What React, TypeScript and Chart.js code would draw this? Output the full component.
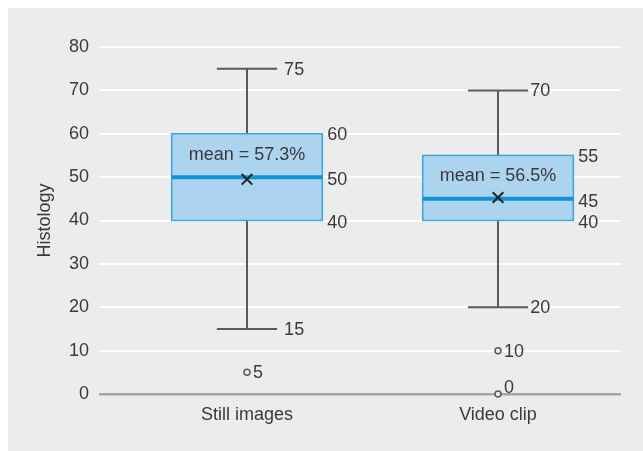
import React, { useEffect, useRef } from "react";
import { Chart, registerables } from "chart.js";

Chart.register(...registerables);

const categories = ["Still images", "Video clip"];
const whiskerMax = [75, 70];
const q3 = [60, 55];
const median = [50, 45];
const q1 = [40, 40];
const whiskerMin = [15, 20];
const meanMarker = [49.5, 45.3];
const meanLabel = ["57.3%", "56.5%"];
const outlierCat = [1, 2, 2];
const outlierVal = [5, 10, 0];
const yTicks = [0, 10, 20, 30, 40, 50, 60, 70, 80];

const FONT = "'Liberation Sans', Arial, sans-serif";
const TEXT = "#3a3a3a";
const BOX_FILL = "#add4ef";
const BOX_BORDER = "#38a6e0";
const MEDIAN = "#1193d9";
const WHISKER = "#5a5a5a";
const BOX_HALF = 0.3;
const CAP_HALF = 0.12;
const CAP_LABEL_GAP = [7, 2];

const boxPlugin = {
  id: "boxPlugin",
  beforeDatasetsDraw(chart: any) {
    const { ctx } = chart;
    const xs = chart.scales.x;
    const ys = chart.scales.y;
    categories.forEach((_, i) => {
      const c = i + 1;
      const x = xs.getPixelForValue(c);
      const bl = xs.getPixelForValue(c - BOX_HALF);
      const br = xs.getPixelForValue(c + BOX_HALF);
      const cl = xs.getPixelForValue(c - CAP_HALF);
      const cr = xs.getPixelForValue(c + CAP_HALF);
      const yMax = ys.getPixelForValue(whiskerMax[i]);
      const yQ3 = ys.getPixelForValue(q3[i]);
      const yMed = ys.getPixelForValue(median[i]);
      const yQ1 = ys.getPixelForValue(q1[i]);
      const yMin = ys.getPixelForValue(whiskerMin[i]);
      ctx.save();
      ctx.strokeStyle = WHISKER;
      ctx.lineWidth = 2;
      ctx.beginPath();
      ctx.moveTo(x, yMax);
      ctx.lineTo(x, yQ3);
      ctx.moveTo(x, yQ1);
      ctx.lineTo(x, yMin);
      ctx.moveTo(cl, yMax);
      ctx.lineTo(cr, yMax);
      ctx.moveTo(cl, yMin);
      ctx.lineTo(cr, yMin);
      ctx.stroke();
      ctx.fillStyle = BOX_FILL;
      ctx.fillRect(bl, yQ3, br - bl, yQ1 - yQ3);
      ctx.strokeStyle = BOX_BORDER;
      ctx.lineWidth = 1.5;
      ctx.strokeRect(bl, yQ3, br - bl, yQ1 - yQ3);
      ctx.strokeStyle = MEDIAN;
      ctx.lineWidth = 4;
      ctx.beginPath();
      ctx.moveTo(bl, yMed);
      ctx.lineTo(br, yMed);
      ctx.stroke();
      ctx.restore();
    });
  },
  afterDatasetsDraw(chart: any) {
    const { ctx } = chart;
    const xs = chart.scales.x;
    const ys = chart.scales.y;
    ctx.save();
    ctx.font = `18px ${FONT}`;
    ctx.fillStyle = TEXT;
    ctx.textBaseline = "middle";
    categories.forEach((_, i) => {
      const c = i + 1;
      const x = xs.getPixelForValue(c);
      const br = xs.getPixelForValue(c + BOX_HALF);
      const cr = xs.getPixelForValue(c + CAP_HALF);
      ctx.textAlign = "left";
      ctx.fillText(String(whiskerMax[i]), cr + CAP_LABEL_GAP[i], ys.getPixelForValue(whiskerMax[i]) + 1);
      ctx.fillText(String(whiskerMin[i]), cr + CAP_LABEL_GAP[i], ys.getPixelForValue(whiskerMin[i]) + 1);
      ctx.fillText(String(q3[i]), br + 5, ys.getPixelForValue(q3[i]) + 1.5);
      ctx.fillText(String(median[i]), br + 5, ys.getPixelForValue(median[i]) + 3);
      ctx.fillText(String(q1[i]), br + 5, ys.getPixelForValue(q1[i]) + 3);
      ctx.textAlign = "center";
      ctx.fillText(`mean = ${meanLabel[i]}`, x, ys.getPixelForValue(q3[i]) + 21);
    });
    ctx.textAlign = "left";
    outlierVal.forEach((v, k) => {
      const px = xs.getPixelForValue(outlierCat[k]);
      const py = ys.getPixelForValue(v);
      ctx.fillText(String(v), px + 6, py + (v === 0 ? -6 : 1));
    });
    ctx.restore();
  },
};

export default function App() {
  const ref = useRef<HTMLCanvasElement>(null);
  useEffect(() => {
    if (!ref.current) return;
    const chart = new Chart(ref.current, {
      type: "scatter",
      data: {
        datasets: [
          {
            label: "outliers",
            data: outlierVal.map((v, k) => ({ x: outlierCat[k], y: v })),
            pointStyle: "circle",
            radius: 3,
            borderWidth: 1.5,
            borderColor: WHISKER,
            backgroundColor: "#ebecec",
            clip: false,
          } as any,
          {
            label: "mean",
            data: meanMarker.map((v, i) => ({ x: i + 1, y: v })),
            pointStyle: "crossRot",
            radius: 7.5,
            borderWidth: 2,
            borderColor: "#222222",
            clip: false,
          } as any,
        ],
      },
      options: {
        animation: false,
        responsive: false,
        events: [],
        layout: { padding: { top: 39, right: 22, left: 0, bottom: 0 } },
        plugins: { legend: { display: false }, tooltip: { enabled: false } },
        scales: {
          x: {
            type: "linear",
            min: 0.4104,
            max: 2.49,
            afterFit: (s: any) => {
              s.height = 57;
            },
            afterBuildTicks: (s: any) => {
              s.ticks = categories.map((_, i) => ({ value: i + 1 }));
            },
            grid: { display: false, drawTicks: false },
            border: { display: false },
            ticks: {
              autoSkip: false,
              maxRotation: 0,
              padding: 10,
              color: TEXT,
              font: { family: FONT, size: 18 },
              callback: (v: any) => categories[Number(v) - 1] ?? "",
            },
          },
          y: {
            min: 0,
            max: 80,
            afterFit: (s: any) => {
              s.width = 91;
            },
            afterBuildTicks: (s: any) => {
              s.ticks = yTicks.map((v) => ({ value: v }));
            },
            grid: {
              drawTicks: false,
              color: (c: any) => (c.tick && c.tick.value === 0 ? "#a4a6a7" : "#ffffff"),
              lineWidth: (c: any) => (c.tick && c.tick.value === 0 ? 2.5 : 2),
            },
            border: { display: false },
            ticks: {
              padding: 10,
              color: TEXT,
              font: { family: FONT, size: 18 },
            },
            title: {
              display: true,
              text: "Histology",
              color: TEXT,
              font: { family: FONT, size: 18 },
              padding: { top: 26, bottom: 0 },
            },
          },
        },
      },
      plugins: [boxPlugin],
    });
    return () => chart.destroy();
  }, []);
  return (
    <div
      style={{
        position: "absolute",
        left: 8,
        top: 8,
        width: 635,
        height: 443,
        background: "#ebecec",
      }}
    >
      <canvas ref={ref} width={635} height={443} style={{ display: "block" }} />
    </div>
  );
}
